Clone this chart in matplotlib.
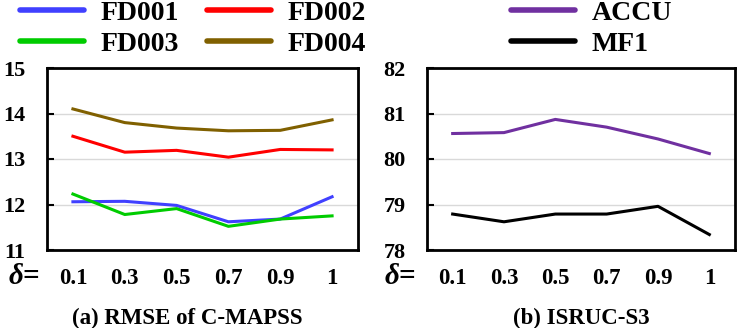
import matplotlib
matplotlib.use("Agg")
import matplotlib.pyplot as plt
from matplotlib.lines import Line2D

deltas = ["0.1", "0.3", "0.5", "0.7", "0.9", "1"]

fd001 = [12.06, 12.07, 11.98, 11.62, 11.68, 12.17]
fd002 = [13.50, 13.15, 13.19, 13.04, 13.21, 13.20]
fd003 = [12.23, 11.78, 11.91, 11.52, 11.68, 11.75]
fd004 = [14.10, 13.80, 13.68, 13.62, 13.63, 13.86]

accu = [80.56, 80.58, 80.87, 80.70, 80.44, 80.12]
mf1 = [78.79, 78.62, 78.79, 78.79, 78.96, 78.34]

left_ticks = [11, 12, 13, 14, 15]
right_ticks = [78, 79, 80, 81, 82]

colors = {"FD001": "#4040FF", "FD002": "#FF0000", "FD003": "#00CC00",
          "FD004": "#806000", "ACCU": "#7030A0", "MF1": "#000000"}

plt.rcParams['font.family'] = ['Liberation Serif', 'DejaVu Serif']
plt.rcParams['font.weight'] = 'bold'

W, H = 748, 328
fig = plt.figure(figsize=(W / 100, H / 100), dpi=100)

ax1 = fig.add_axes([47 / W, (H - 250) / H, 311 / W, 182 / H])
ax2 = fig.add_axes([427 / W, (H - 250) / H, 308 / W, 182 / H])

x = list(range(len(deltas)))

def style(ax, ticks):
    ax.set_xlim(-0.5, len(deltas) - 0.5)
    ax.set_ylim(ticks[0], ticks[-1])
    ax.set_yticks(ticks)
    ax.set_yticklabels([str(t) for t in ticks], fontsize=16, fontweight='bold')
    ax.set_xticks(x)
    ax.set_xticklabels(deltas, fontsize=16.5, fontweight='bold')
    ax.tick_params(axis='x', length=0, pad=13)
    ax.tick_params(axis='y', direction='in', length=5, width=1.5, pad=15.5)
    ax.grid(axis='y', color='#d9d9d9', linewidth=1)
    ax.set_axisbelow(True)
    for s in ax.spines.values():
        s.set_linewidth(2)
        s.set_color('black')

style(ax1, left_ticks)
style(ax2, right_ticks)

lw = 2.2
for name, vals in [("FD001", fd001), ("FD002", fd002), ("FD003", fd003), ("FD004", fd004)]:
    ax1.plot(x, vals, color=colors[name], linewidth=lw, label=name)
for name, vals in [("ACCU", accu), ("MF1", mf1)]:
    ax2.plot(x, vals, color=colors[name], linewidth=lw, label=name)

def handles(names):
    return [Line2D([0], [0], color=colors[n], linewidth=4, solid_capstyle='round') for n in names]

leg_kw = dict(frameon=False, prop={'family': 'Liberation Serif', 'weight': 'bold', 'size': 20},
              handlelength=2.3, handletextpad=0.6, labelspacing=0.18, borderpad=0,
              borderaxespad=0, loc='upper left')
left_order = ["FD001", "FD003", "FD002", "FD004"]
fig.legend(handles(left_order), left_order,
           ncol=2, columnspacing=1.0, bbox_to_anchor=(20 / W, 0.998), **leg_kw)
fig.legend(handles(["ACCU", "MF1"]), ["ACCU", "MF1"], ncol=1,
           bbox_to_anchor=(511 / W, 0.998), **leg_kw)

fig.text(9 / W, 1 - 276 / H, "δ=", fontsize=21, fontweight='bold', style='italic',
         ha='left', va='center')
fig.text(385 / W, 1 - 276 / H, "δ=", fontsize=21, fontweight='bold', style='italic',
         ha='left', va='center')
fig.text(187 / W, 1 - 318 / H, "(a) RMSE of C-MAPSS", fontsize=16.5, fontweight='bold',
         ha='center', va='center')
fig.text(581 / W, 1 - 318 / H, "(b) ISRUC-S3", fontsize=16.5, fontweight='bold',
         ha='center', va='center')

fig.savefig("out.png", dpi=100)
